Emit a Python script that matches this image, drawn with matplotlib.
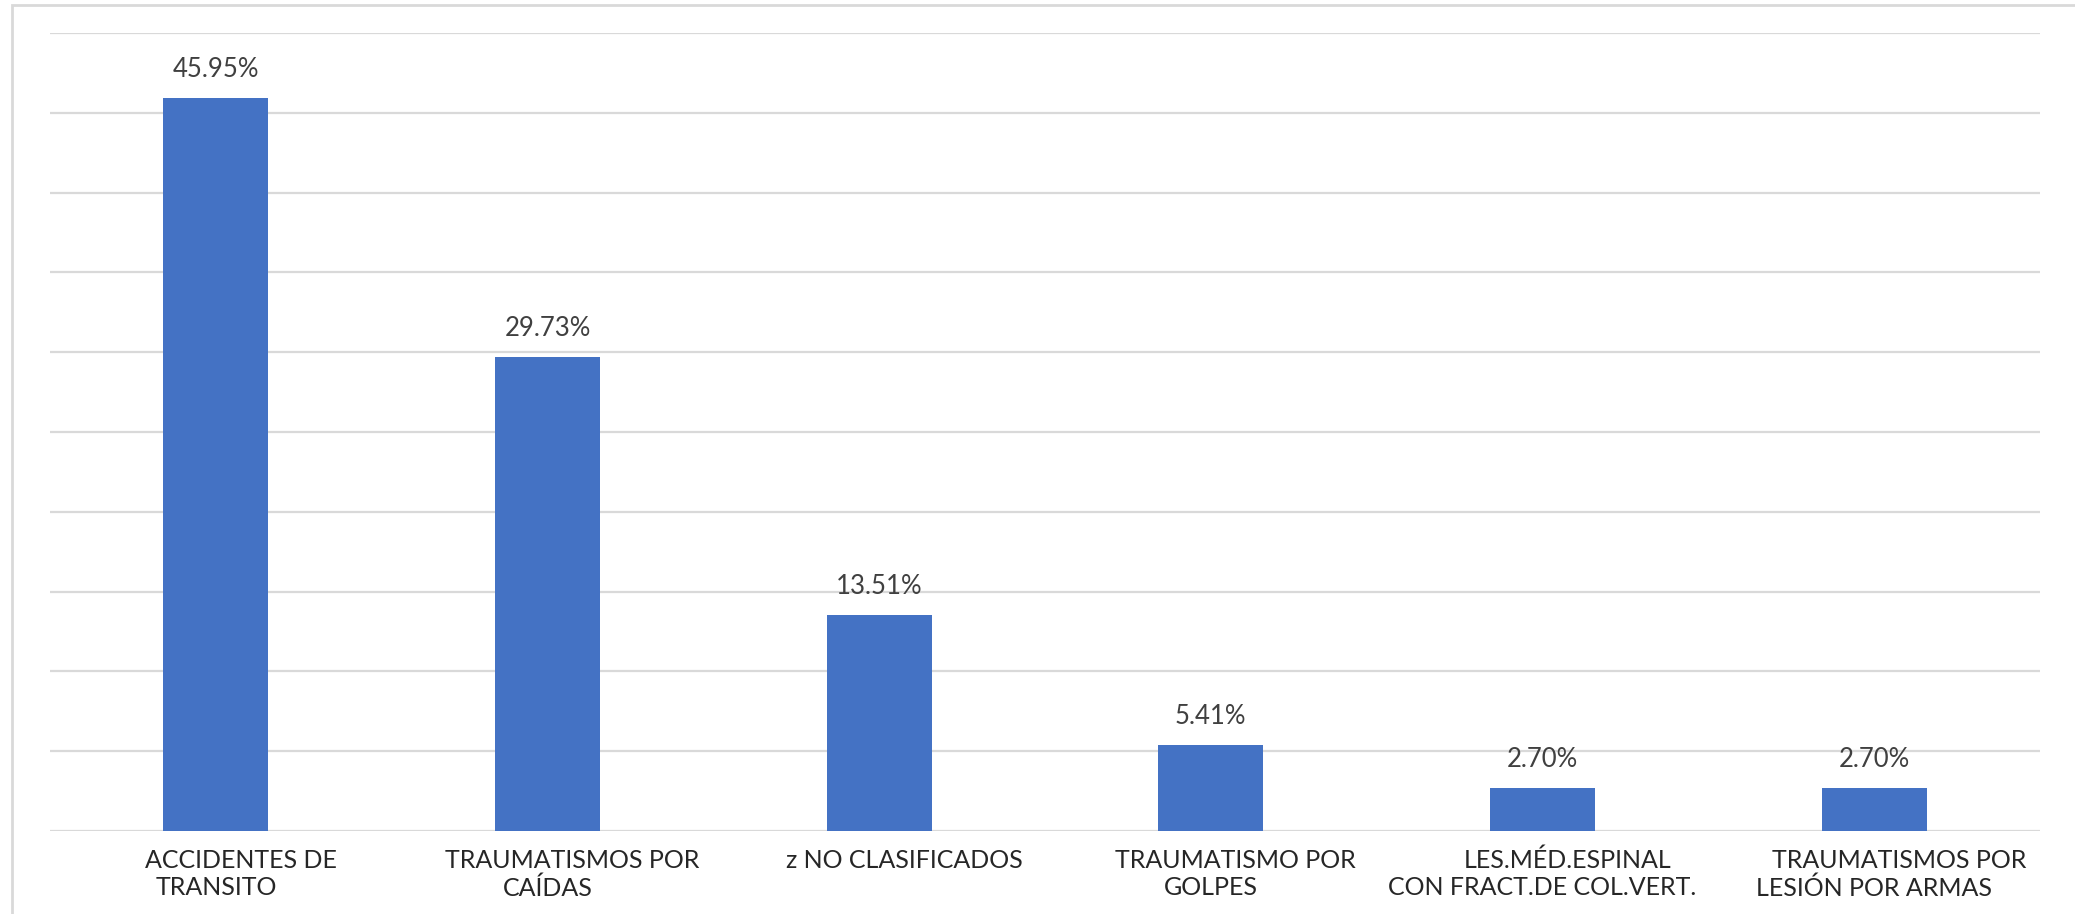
import matplotlib.pyplot as plt
from matplotlib.patches import Rectangle

categories = ["ACCIDENTES DE\nTRANSITO", "TRAUMATISMOS POR\nCAÍDAS", "z NO CLASIFICADOS",
              "TRAUMATISMO POR\nGOLPES", "LES.MÉD.ESPINAL\nCON FRACT.DE COL.VERT.",
              "TRAUMATISMOS POR\nLESIÓN POR ARMAS"]
values = [45.95, 29.73, 13.51, 5.41, 2.70, 2.70]
labels = ["45.95%", "29.73%", "13.51%", "5.41%", "2.70%", "2.70%"]

plt.rcParams['font.family'] = ['Lato', 'DejaVu Sans']

fig = plt.figure(figsize=(20.75, 9.14), dpi=100)
ax = fig.add_axes([50/2075, 83/914, 1990/2075, 798/914])

x = range(len(values))
ax.bar(x, values, width=0.317, color="#4472C4", zorder=3)
for i, v in enumerate(values):
  ax.text(i, v + 1.0, labels[i], ha="center", va="bottom", fontsize=18.5, color="#404040")

# category labels: first line sits a bit to the right, like the excel export
for i, cat in enumerate(categories):
  lines = cat.split("\n")
  ax.annotate(lines[0], xy=(i, 0), xycoords=("data", "axes fraction"),
              xytext=(18, -21), textcoords="offset points",
              ha="center", va="center", fontsize=18, color="#262626")
  if len(lines) > 1:
    ax.annotate(lines[1], xy=(i, 0), xycoords=("data", "axes fraction"),
                xytext=(0, -41), textcoords="offset points",
                ha="center", va="center", fontsize=18, color="#262626")

ax.set_xlim(-0.5, len(values) - 0.5)
ax.set_ylim(0, 50)
ax.set_yticks(range(0, 51, 5))
ax.yaxis.grid(True, color="#D9D9D9", linewidth=1.6, zorder=0)
ax.tick_params(axis="y", length=0, labelleft=False)
ax.set_xticks([])
for s in ax.spines.values():
  s.set_visible(False)

# outer chart border (cut at right and bottom)
fig.patches.append(Rectangle((12/2075, -0.1), 2, 1.1 - 5/914, transform=fig.transFigure,
                             fill=False, edgecolor="#D9D9D9", linewidth=2))

fig.savefig("out.png", dpi=100)
